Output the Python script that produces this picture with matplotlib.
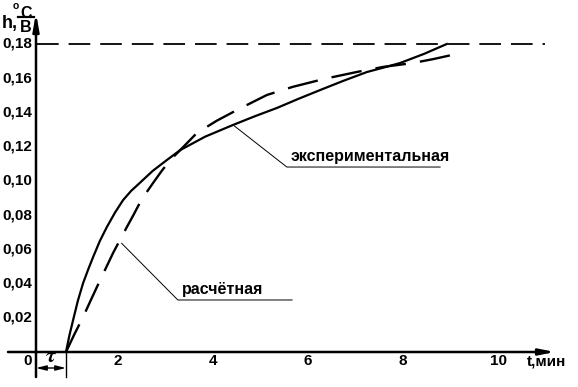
import matplotlib
matplotlib.use('Agg')
import matplotlib.pyplot as plt

plt.rcParams['font.family'] = ['Liberation Sans', 'DejaVu Sans']
plt.rcParams['font.weight'] = 'bold'
plt.rcParams['mathtext.fontset'] = 'stix'

# experimental transient response (solid line), t in min, h in degC/V
t_exp = [0.63, 0.70, 0.78, 0.88, 0.99, 1.10, 1.20, 1.34, 1.49, 1.66, 1.83, 2.00, 2.18,
         2.45, 2.75, 3.03, 3.55, 4.14, 4.60, 5.06, 5.50, 5.97, 6.45, 6.95, 7.30, 7.65, 8.15, 8.63]
h_exp = [0.0, 0.0095, 0.0187, 0.0300, 0.0403, 0.0485, 0.0555, 0.0648, 0.0731, 0.0815, 0.0888,
         0.0942, 0.0988, 0.1058, 0.1122, 0.1180, 0.1258, 0.1327, 0.1378, 0.1426, 0.1478, 0.1531,
         0.1584, 0.1636, 0.1662, 0.1689, 0.1742, 0.1800]

# calculated response (dashed line)
t_calc = [0.63, 0.80, 0.99, 1.13, 1.28, 1.45, 1.62, 1.77, 1.91, 2.05, 2.18, 2.32, 2.46, 2.64,
          2.82, 3.03, 3.38, 3.80, 4.22, 4.85, 5.40, 5.97, 6.24, 6.75, 7.29, 7.92, 8.35, 8.74]
h_calc = [0.0, 0.0100, 0.0205, 0.0290, 0.0380, 0.0480, 0.0579, 0.0658, 0.0731, 0.0802, 0.0871,
          0.0932, 0.0988, 0.1058, 0.1122, 0.1180, 0.1280, 0.1352, 0.1414, 0.1502, 0.1550, 0.1590,
          0.1607, 0.1637, 0.1666, 0.1689, 0.1712, 0.1736]

h_steady = 0.18
tau = 0.63

x_ticks = [2, 4, 6, 8, 10]
x_labels = ['2', '4', '6', '8', '10']
y_ticks = [0.02, 0.04, 0.06, 0.08, 0.10, 0.12, 0.14, 0.16, 0.18]
y_labels = ['0,02', '0,04', '0,06', '0,08', '0,10', '0,12', '0,14', '0,16', '0,18']

# curve labels: text, point on curve, knee of leader, end of underline
lbl_exp = ('экспериментальная', (4.14, 0.1327), (5.27, 0.1081), 8.49)
lbl_calc = ('расчётная', (1.80, 0.0635), (2.98, 0.0304), 5.38)

# pixel scale of the drawing (px per unit)
sx = 47.6
sy = 308 / 0.18

fig = plt.figure(figsize=(5.78, 3.87), dpi=100)
ax = fig.add_axes([0, 0, 1, 1])
ax.set_xlim(-36 / sx, 542 / sx)
ax.set_ylim(-35 / sy, 352 / sy)
ax.axis('off')

# axes with arrows
ax.annotate('', xy=(519 / sx, 0), xytext=(-28 / sx, 0),
            arrowprops=dict(arrowstyle='-|>,head_length=9,head_width=1.8', mutation_scale=1,
                            lw=1.8, color='k', shrinkA=0, shrinkB=0))
ax.annotate('', xy=(0, 339 / sy), xytext=(0, -25 / sy),
            arrowprops=dict(arrowstyle='-|>,head_length=10,head_width=1.8', mutation_scale=1,
                            lw=1.8, color='k', shrinkA=0, shrinkB=0))

# steady state level
ax.plot([1 / sx, 509 / sx], [h_steady, h_steady], color='k', lw=1.3, dashes=(12, 5.5))

# curves
ax.plot(t_exp, h_exp, color='k', lw=1.6, solid_joinstyle='round')
ax.plot(t_calc, h_calc, color='k', lw=1.7, dashes=(13, 6))

# tick labels
for x, s in zip(x_ticks, x_labels):
    ax.annotate(s, (x, 0), xytext=(-10, -6.5), textcoords='offset points',
                ha='center', va='center', fontsize=11)
ax.annotate('0', (0, 0), xytext=(-6, -6.5), textcoords='offset points',
            ha='center', va='center', fontsize=11)
for y, s in zip(y_ticks, y_labels):
    ax.annotate(s, (0, y), xytext=(-2.5, 0), textcoords='offset points',
                ha='right', va='center', fontsize=11)
ax.annotate('t,мин', (491 / sx, 0), xytext=(0, -6.5), textcoords='offset points',
            ha='left', va='center', fontsize=11)

# y axis label h, degC/V
ax.text(-34 / sx, 324 / sy, 'h,', fontsize=13, ha='left', va='baseline')
ax.text(-10 / sx, 339 / sy, 'C', fontsize=11.5, ha='center', va='center')
ax.text(-20 / sx, 346 / sy, 'o', fontsize=7.5, ha='center', va='center')
ax.plot([-18 / sx, -2 / sx], [335 / sy, 335 / sy], color='k', lw=1.6)
ax.text(-10 / sx, 325 / sy, 'B', fontsize=11.5, ha='center', va='center')

# tau dimension
ax.plot([tau, tau], [0, -25 / sy], color='k', lw=1)
ax.annotate('', xy=(tau, -16 / sy), xytext=(0, -16 / sy),
            arrowprops=dict(arrowstyle='<|-|>,head_length=6,head_width=1.5', mutation_scale=1,
                            lw=1, color='k', shrinkA=0, shrinkB=0))
ax.text(tau / 2, -5 / sy, r'$\tau$', fontsize=16, ha='center', va='center')

# curve labels with leaders
for text, pt, knee, x_end in [lbl_exp, lbl_calc]:
    ax.plot([pt[0], knee[0], x_end], [pt[1], knee[1], knee[1]], color='k', lw=0.7)
    ax.text(knee[0] + 4 / sx, knee[1] + 6 / sy, text, fontsize=11.5, ha='left', va='baseline')

fig.savefig('out.png', dpi=100)
